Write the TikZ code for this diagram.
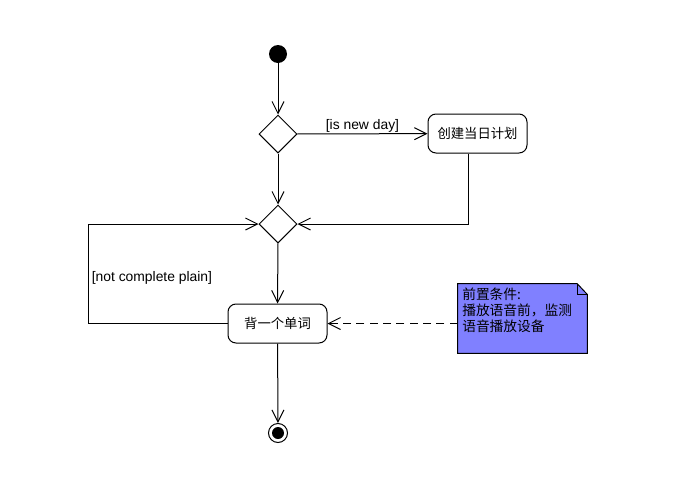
\documentclass[tikz,border=0pt]{standalone}
\usepackage{fontspec}
\setmainfont{Liberation Sans}
\newfontfamily\cjk{Noto Sans CJK SC}
\usetikzlibrary{arrows.meta,shapes.geometric}
\definecolor{notefill}{HTML}{8080FF}
\tikzset{
  flow/.style={draw=black, line width=0.75pt, -{Straight Barb[length=9pt,width=9pt,line width=0.75pt]}},
  plain/.style={draw=black, line width=0.75pt},
  actbox/.style={draw=black, line width=0.75pt, rounded corners=6pt, minimum width=74.25pt, minimum height=29.25pt, inner sep=0pt, font=\cjk\fontsize{10}{12}\selectfont},
  decide/.style={draw=black, line width=0.75pt, diamond, aspect=1, minimum width=28.5pt, minimum height=28.5pt, inner sep=0pt},
  guard/.style={font=\fontsize{10.4}{12}\selectfont, inner sep=1pt},
}
\begin{document}
\begin{tikzpicture}[x=0.75pt,y=-0.75pt]
\useasboundingbox[fill=white] (0,0) rectangle (697,479);
\node[circle, fill=black, minimum size=13.5pt, inner sep=0pt] (start) at (278,54) {};
\node[decide] (d1) at (278,134) {};
\node[actbox] (b1) at (477.5,133.5) {创建当日计划};
\node[decide] (d2) at (278,224) {};
\node[actbox] (b2) at (277.5,323.5) {背一个单词};
\node[circle, draw=black, line width=0.75pt, minimum size=14.25pt, inner sep=0pt] (end) at (278,433) {};
\fill[black] (end.center) circle[radius=4.5pt];
\coordinate (lp) at (88,224);
% note
\node[minimum width=96.75pt, minimum height=51.75pt, inner sep=0pt] (note) at (522.5,318.5) {};
\draw[plain, fill=notefill] (note.north west) -- ([xshift=-7.5pt]note.north east) -- ([yshift=-8pt]note.north east) -- (note.south east) -- (note.south west) -- cycle;
\draw[plain] ([xshift=-7.5pt]note.north east) -- ([xshift=-7.5pt,yshift=-8pt]note.north east) -- ([yshift=-8pt]note.north east);
\node[anchor=north west, align=left, inner sep=0pt, font=\cjk\fontsize{10.3}{12}\selectfont] (notetext) at (462,288) {前置条件:\\播放语音前，监测\\语音播放设备};
% connectors
\draw[flow] (start) -- (d1);
\draw[flow] (d1) -- node[guard, above] {[is new day]} (b1);
\draw[flow] (d1) -- (d2);
\draw[flow] ([xshift=-6.4pt]b1.south) |- (d2.east);
\draw[flow] (b2.west) -| (lp) node[guard, pos=0.73, anchor=west, xshift=1.5pt] {[not complete plain]} -- (d2.west);
\draw[flow] (d2) -- (b2);
\draw[flow, dash pattern=on 6pt off 4pt] (note.west |- b2.east) -- (b2.east);
\draw[flow] (b2) -- (end);
\end{tikzpicture}
\end{document}
